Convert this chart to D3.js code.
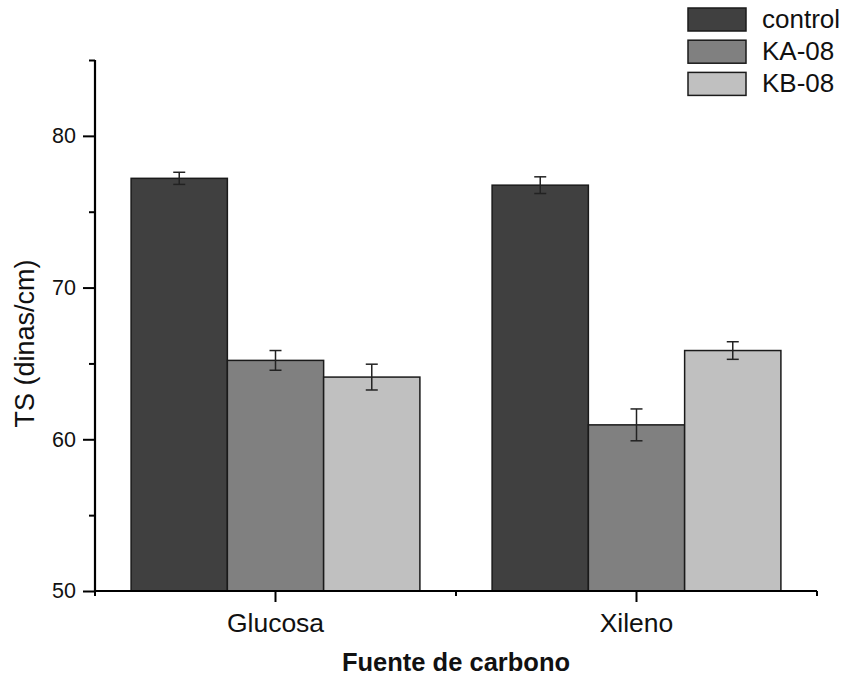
<!DOCTYPE html>
<html>
<head>
<meta charset="utf-8">
<script src="https://cdn.jsdelivr.net/npm/d3@7"></script>
<style>
  html, body { margin: 0; padding: 0; background: #fff; }
  svg { display: block; font-family: "Liberation Sans", Arial, sans-serif; }
</style>
</head>
<body>
<svg id="chart" width="844" height="678"></svg>
<script>
// Carbon sources and strains
const categories = ["Glucosa", "Xileno"];
const series = ["control", "KA-08", "KB-08"];

// Surface tension means (dinas/cm) per series, in category order
const controlValues = [77.2, 76.75];
const ka08Values = [65.2, 60.95];
const kb08Values = [64.1, 65.85];

// Standard deviations per series, in category order
const controlErrors = [0.4, 0.55];
const ka08Errors = [0.65, 1.05];
const kb08Errors = [0.85, 0.58];

// Y axis ticks
const majorTicks = [50, 60, 70, 80];
const minorTicks = [55, 65, 75, 85];

const seriesColors = ["#404040", "#808080", "#c0c0c0"];

const valuesBySeries = [controlValues, ka08Values, kb08Values];
const errorsBySeries = [controlErrors, ka08Errors, kb08Errors];

const rows = [];
series.forEach((s, si) => {
  categories.forEach((c, ci) => {
    rows.push({ series: s, category: c, value: valuesBySeries[si][ci], err: errorsBySeries[si][ci] });
  });
});

const svg = d3.select("#chart");
const margin = { left: 95, right: 27, top: 60, bottom: 87 };
const W = 844, H = 678;
const plotBottom = H - margin.bottom; // 591

const x0 = d3.scaleBand()
  .domain(categories)
  .range([margin.left, W - margin.right])
  .paddingInner(0.2)
  .paddingOuter(0.1);

const x1 = d3.scaleBand()
  .domain(series)
  .range([0, x0.bandwidth()]);

const y = d3.scaleLinear()
  .domain([50, 85])
  .range([plotBottom, margin.top]);

const color = d3.scaleOrdinal().domain(series).range(seriesColors);

// Bars
svg.append("g")
  .selectAll("rect")
  .data(rows)
  .join("rect")
  .attr("x", d => x0(d.category) + x1(d.series))
  .attr("y", d => y(d.value))
  .attr("width", x1.bandwidth())
  .attr("height", d => y(50) - y(d.value))
  .attr("fill", d => color(d.series))
  .attr("stroke", "#1a1a1a")
  .attr("stroke-width", 1.5);

// Error bars
const eb = svg.append("g").attr("stroke", "#222").attr("stroke-width", 1.5).attr("fill", "none");
rows.forEach(d => {
  const cx = x0(d.category) + x1(d.series) + x1.bandwidth() / 2;
  const yt = y(d.value + d.err), yb = y(d.value - d.err);
  eb.append("line").attr("x1", cx).attr("x2", cx).attr("y1", yt).attr("y2", yb);
  eb.append("line").attr("x1", cx - 6).attr("x2", cx + 6).attr("y1", yt).attr("y2", yt);
  eb.append("line").attr("x1", cx - 6).attr("x2", cx + 6).attr("y1", yb).attr("y2", yb);
});

// Y axis: major ticks with labels, minor ticks without
const yAxis = svg.append("g").attr("transform", `translate(${margin.left},0)`);
yAxis.call(d3.axisLeft(y).tickValues(majorTicks).tickSize(12).tickPadding(7).tickFormat(d3.format("d")));
yAxis.append("g").call(d3.axisLeft(y).tickValues(minorTicks).tickSize(6).tickFormat(""))
  .select(".domain").remove();
yAxis.selectAll(".domain").attr("d", `M0,${y(85)}V${plotBottom}`);
yAxis.selectAll("line").attr("stroke", "#000").attr("stroke-width", 2);
yAxis.selectAll(".domain").attr("stroke", "#000").attr("stroke-width", 2.2);
yAxis.selectAll("text").attr("font-size", 21.5).attr("fill", "#111")
  .attr("font-family", "'Liberation Sans', Arial, sans-serif");

// X axis: labelled ticks at category centres, short ticks at band edges
const xAxis = svg.append("g").attr("transform", `translate(0,${plotBottom})`);
xAxis.call(d3.axisBottom(x0).tickSize(11).tickPadding(11));
const edges = [margin.left, W - margin.right, (x0(categories[0]) + x0.bandwidth() + x0(categories[1])) / 2];
xAxis.selectAll(".edge")
  .data(edges)
  .join("line")
  .attr("class", "edge")
  .attr("x1", d => d).attr("x2", d => d)
  .attr("y1", 0).attr("y2", 5);
xAxis.selectAll(".domain").attr("d", `M${margin.left},0H${W - margin.right}`);
xAxis.selectAll("line").attr("stroke", "#000").attr("stroke-width", 2);
xAxis.selectAll(".domain").attr("stroke", "#000").attr("stroke-width", 2.2);
xAxis.selectAll("text").attr("font-size", 26.5).attr("fill", "#111")
  .attr("font-family", "'Liberation Sans', Arial, sans-serif");

// Axis titles
svg.append("text")
  .attr("x", (margin.left + W - margin.right) / 2)
  .attr("y", 671)
  .attr("text-anchor", "middle")
  .attr("font-size", 25.5)
  .attr("font-weight", "bold")
  .attr("fill", "#111")
  .text("Fuente de carbono");

svg.append("text")
  .attr("transform", `translate(34,${(y(50) + y(85)) / 2 + 18}) rotate(-90)`)
  .attr("text-anchor", "middle")
  .attr("font-size", 27)
  .attr("fill", "#111")
  .text("TS (dinas/cm)");

// Legend
const legend = svg.append("g").attr("transform", "translate(688,8)");
series.forEach((s, i) => {
  const g = legend.append("g").attr("transform", `translate(0,${i * 32.2})`);
  g.append("rect").attr("width", 58).attr("height", 23)
    .attr("fill", color(s)).attr("stroke", "#1a1a1a").attr("stroke-width", 1.5);
  g.append("text").attr("x", 74).attr("y", 19.5).attr("font-size", 26).attr("fill", "#111").text(s);
});
</script>
</body>
</html>
